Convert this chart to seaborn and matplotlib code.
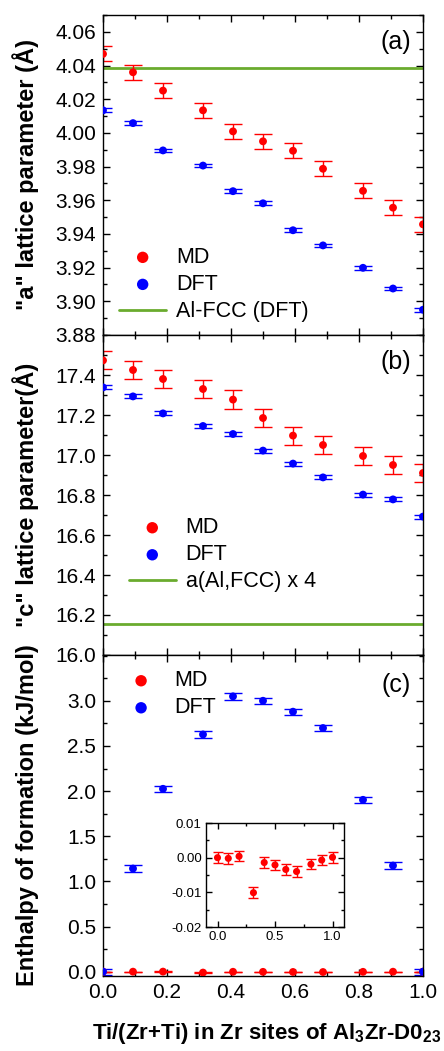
import matplotlib.pyplot as plt
import seaborn as sns
import numpy as np
from matplotlib.ticker import MultipleLocator, FormatStrFormatter

# Ti fraction on the 32 Zr sites
x = [0.0, 0.09375, 0.1875, 0.3125, 0.40625, 0.5, 0.59375, 0.6875, 0.8125, 0.90625, 1.0]

# (a) "a" lattice parameter
a_md = [4.0469, 4.0360, 4.0251, 4.0134, 4.0009, 3.9950, 3.9894, 3.9787, 3.9656, 3.9556, 3.9457]
a_md_err = [0.0045, 0.0044, 0.0045, 0.0046, 0.0045, 0.0045, 0.0045, 0.0045, 0.0045, 0.0045, 0.0045]
a_dft = [4.0134, 4.0058, 3.9896, 3.9806, 3.9654, 3.9582, 3.9422, 3.9332, 3.9199, 3.9076, 3.8950]
a_dft_err = [0.0011] * 11
a_fcc = 4.0388

# (b) "c" lattice parameter
c_md = [17.473, 17.425, 17.380, 17.330, 17.277, 17.185, 17.097, 17.050, 16.995, 16.950, 16.910]
c_md_err = [0.045, 0.046, 0.044, 0.046, 0.046, 0.045, 0.045, 0.046, 0.046, 0.045, 0.045]
c_dft = [17.338, 17.293, 17.208, 17.145, 17.105, 17.022, 16.957, 16.888, 16.802, 16.778, 16.692]
c_dft_err = [0.010] * 11

# (c) enthalpy of formation
h_md = [0.0, -0.0002, 0.0004, -0.0101, -0.0014, -0.0021, -0.0034, -0.0040, -0.0019, -0.0007, 0.0001]
h_md_err = [0.0015] * 11
h_dft = [0.0, 1.142, 2.025, 2.627, 3.049, 3.000, 2.879, 2.698, 1.903, 1.175, 0.0]
h_dft_err = [0.035] * 11

RED = "#ff0000"
BLUE = "#0000ff"
GREEN = "#6aab2e"

sns.set_theme(style="ticks")
plt.rcParams["font.family"] = ["Liberation Sans", "DejaVu Sans"]
plt.rcParams["axes.unicode_minus"] = False
plt.rcParams["mathtext.fontset"] = "custom"
plt.rcParams["mathtext.rm"] = "Liberation Sans"
plt.rcParams["mathtext.bf"] = "Liberation Sans:bold"
for key in ("text.color", "axes.labelcolor", "xtick.color", "ytick.color", "axes.edgecolor"):
    plt.rcParams[key] = "black"

W, H = 444, 1051
fig = plt.figure(figsize=(W / 100, H / 100), dpi=100)


def px_axes(left, top, right, bottom):
    return fig.add_axes([left / W, (H - bottom) / H, (right - left) / W, (bottom - top) / H])


ax_a = px_axes(103, 15, 423, 335)
ax_b = px_axes(103, 335, 423, 655)
ax_c = px_axes(103, 655, 423, 976)


def style_axes(ax, fs=15, major=5, minor=3, pad=5):
    for s in ax.spines.values():
        s.set_linewidth(1.0)
        s.set_color("black")
    ax.tick_params(which="both", direction="in", top=True, right=True,
                   colors="black", width=1.0, labelsize=fs, pad=pad)
    ax.tick_params(which="major", length=major)
    ax.tick_params(which="minor", length=minor)


def draw_points(ax, y, yerr, color, label, s=32, cap=6.5):
    ax.errorbar(x, y, yerr=yerr, fmt="none", ecolor=color, elinewidth=1.0,
                capsize=cap, capthick=1.0, zorder=2)
    sns.scatterplot(x=x, y=y, color=color, s=s, edgecolor="none", linewidth=0,
                    label=label, ax=ax, zorder=3, legend=False)


def add_legend(ax, xa, ya):
    handles, labels = ax.get_legend_handles_labels()
    ax.legend(handles, labels, loc="upper left", bbox_to_anchor=(xa, ya),
              frameon=False, fontsize=15.5, markerscale=1.45, handlelength=2.2,
              handletextpad=0.45, labelspacing=0.28, borderpad=0, borderaxespad=0)


# panel (a)
draw_points(ax_a, a_md, a_md_err, RED, "MD")
draw_points(ax_a, a_dft, a_dft_err, BLUE, "DFT")
ax_a.axhline(a_fcc, color=GREEN, lw=2.0, label="Al-FCC (DFT)", zorder=1)
ax_a.set_ylim(3.88, 4.07)
ax_a.set_yticks(np.arange(3.88, 4.061, 0.02))
ax_a.yaxis.set_major_formatter(FormatStrFormatter("%.2f"))
ax_a.yaxis.set_minor_locator(MultipleLocator(0.01))
ax_a.set_ylabel('"a" lattice parameter (Å)', fontsize=17, fontweight="bold")
add_legend(ax_a, 0.05, 0.275)
ax_a.text(0.916, 0.916, "(a)", transform=ax_a.transAxes, fontsize=18,
          ha="center", va="center")

# panel (b)
draw_points(ax_b, c_md, c_md_err, RED, "MD")
draw_points(ax_b, c_dft, c_dft_err, BLUE, "DFT")
ax_b.axhline(4 * a_fcc, color=GREEN, lw=2.0, label="a(Al,FCC) x 4", zorder=1)
ax_b.set_ylim(16.0, 17.6)
ax_b.set_yticks(np.arange(16.0, 17.41, 0.2))
ax_b.yaxis.set_major_formatter(FormatStrFormatter("%.1f"))
ax_b.yaxis.set_minor_locator(MultipleLocator(0.1))
ax_b.set_ylabel('"c" lattice parameter(Å)', fontsize=17, fontweight="bold")
add_legend(ax_b, 0.08, 0.43)
ax_b.text(0.916, 0.916, "(b)", transform=ax_b.transAxes, fontsize=18,
          ha="center", va="center")

# panel (c)
draw_points(ax_c, h_md, h_md_err, RED, "MD")
draw_points(ax_c, h_dft, h_dft_err, BLUE, "DFT")
ax_c.set_ylim(-0.048, 3.507)
ax_c.set_yticks(np.arange(0.0, 3.01, 0.5))
ax_c.yaxis.set_major_formatter(FormatStrFormatter("%.1f"))
ax_c.yaxis.set_minor_locator(MultipleLocator(0.25))
ax_c.set_ylabel("Enthalpy of formation (kJ/mol)", fontsize=17, fontweight="bold")
add_legend(ax_c, 0.045, 0.952)
ax_c.text(0.916, 0.906, "(c)", transform=ax_c.transAxes, fontsize=18,
          ha="center", va="center")
ax_c.set_xlabel(r"Ti/(Zr+Ti) in Zr sites of Al$_\mathbf{3}$Zr-D0$_\mathbf{23}$",
                fontsize=16, fontweight="bold")
ax_c.xaxis.set_label_coords(0.51, -0.14)

for ax in (ax_a, ax_b, ax_c):
    ax.set_xlim(0, 1.0)
    ax.xaxis.set_major_locator(MultipleLocator(0.2))
    ax.xaxis.set_minor_locator(MultipleLocator(0.1))
    ax.xaxis.set_major_formatter(FormatStrFormatter("%.1f"))
    style_axes(ax)
    ax.yaxis.set_label_coords(-0.2, 0.5)
for ax in (ax_a, ax_b):
    ax.tick_params(labelbottom=False)

# inset with the MD enthalpies
ax_in = px_axes(206, 823, 344, 927)
draw_points(ax_in, h_md, h_md_err, RED, "MD", s=26, cap=3.5)
ax_in.set_xlim(-0.1, 1.1)
ax_in.set_ylim(-0.02, 0.01)
ax_in.set_xticks([0.0, 0.5, 1.0])
ax_in.xaxis.set_minor_locator(MultipleLocator(0.25))
ax_in.xaxis.set_major_formatter(FormatStrFormatter("%.1f"))
ax_in.set_yticks([-0.02, -0.01, 0.0, 0.01])
ax_in.yaxis.set_minor_locator(MultipleLocator(0.005))
ax_in.yaxis.set_major_formatter(FormatStrFormatter("%.2f"))
style_axes(ax_in, fs=9.5, major=4, minor=2.5, pad=3)

fig.savefig("out.png", dpi=100)
